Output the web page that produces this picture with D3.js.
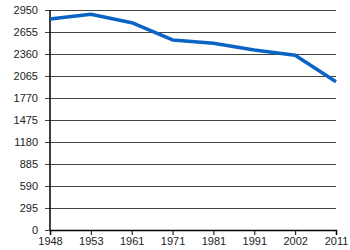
<!DOCTYPE html>
<html>
<head>
<meta charset="utf-8">
<script src="https://cdn.jsdelivr.net/npm/d3@7"></script>
<style>
  body { margin: 0; background: #fff; }
</style>
</head>
<body>
<script>
const years = ['1948', '1953', '1961', '1971', '1981', '1991', '2002', '2011'];
const values = [2829, 2892, 2780, 2548, 2503, 2414, 2342, 1989];
const yTicks = [0, 295, 590, 885, 1180, 1475, 1770, 2065, 2360, 2655, 2950];

const width = 350;
const height = 250;
const margin = {top: 10, right: 14, bottom: 20, left: 50};
const font = 'Liberation Sans, Arial, sans-serif';

const svg = d3.select('body').append('svg')
    .attr('width', width)
    .attr('height', height);

const x = d3.scalePoint().domain(years).range([margin.left, width - margin.right]);
const y = d3.scaleLinear().domain([0, 2950]).range([height - margin.bottom, margin.top]);

// gridlines + y ticks
svg.append('g')
  .attr('transform', `translate(${margin.left},0)`)
  .call(d3.axisLeft(y).tickValues(yTicks).tickFormat(d3.format('d'))
    .tickSize(-(width - margin.right - margin.left)).tickPadding(12))
  .call(g => g.select('.domain').remove())
  .call(g => g.selectAll('.tick line').attr('stroke', '#444').attr('x1', -5))
  .call(g => g.selectAll('.tick text').attr('font-size', 11).attr('font-family', font).attr('fill', '#222'));

// y axis line
svg.append('line')
  .attr('x1', margin.left).attr('x2', margin.left)
  .attr('y1', y(2950)).attr('y2', y(0))
  .attr('stroke', '#000').attr('stroke-width', 1.5);

// x axis
svg.append('g')
  .attr('transform', `translate(0,${y(0)})`)
  .call(d3.axisBottom(x).tickSize(5).tickPadding(2))
  .call(g => g.select('.domain').attr('stroke', '#000').attr('stroke-width', 1.5))
  .call(g => g.selectAll('.tick line').attr('stroke', '#000'))
  .call(g => g.selectAll('.tick text').attr('font-size', 11).attr('font-family', font).attr('fill', '#222'));

const line = d3.line()
  .x((d, i) => x(years[i]))
  .y(d => y(d));

svg.append('path')
  .datum(values)
  .attr('d', line)
  .attr('fill', 'none')
  .attr('stroke', '#0a64c4')
  .attr('stroke-width', 3.5)
  .attr('stroke-linejoin', 'round');
</script>
</body>
</html>
